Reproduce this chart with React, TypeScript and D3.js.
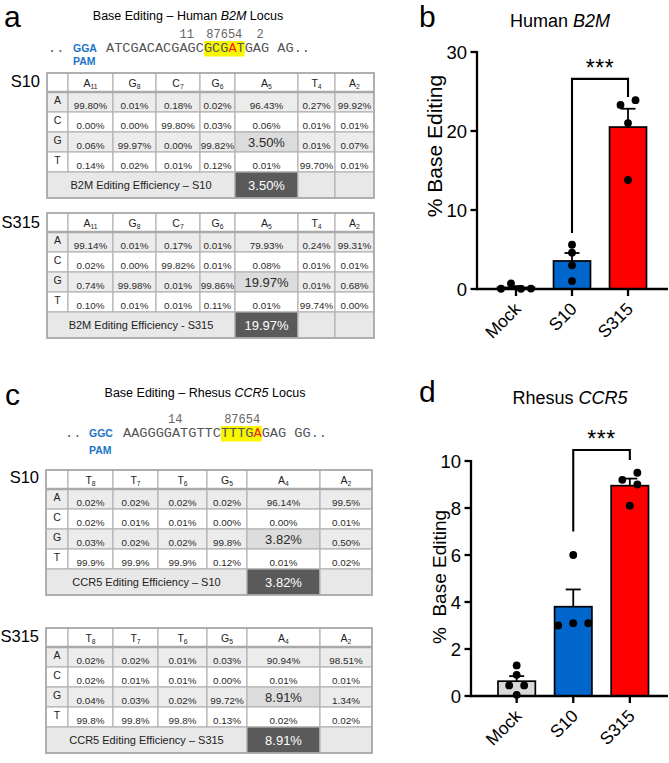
import React from "react";
import * as d3 from "d3";

const FONT = "'Liberation Sans', Arial, Helvetica, sans-serif";
const MONO = "'Liberation Mono', 'Courier New', monospace";
const PAM_BLUE = "#1b74c8";

// ---------- Panel a : Human B2M locus ----------
const b2mTitle = ["Base Editing \u2013 Human ", "B2M", " Locus"];
const b2mPam = "GGA";
const b2mSeq = "ATCGACACGAGCGCGATGAG AG..";
const b2mWindow = [12, 17];
const b2mEdited = 15;
const b2mPosLabels = ["11", "87654", "2"];
const b2mPosCols = [9.9, 14.5, 18.9];

const nucleotides = ["A", "C", "G", "T"];
const b2mHeadBases = ["A", "G", "C", "G", "A", "T", "A"];
const b2mHeadPos = ["11", "8", "7", "6", "5", "4", "2"];
const b2mS10Table = [
  ["99.80%", "0.01%", "0.18%", "0.02%", "96.43%", "0.27%", "99.92%"],
  ["0.00%", "0.00%", "99.80%", "0.03%", "0.06%", "0.01%", "0.01%"],
  ["0.06%", "99.97%", "0.00%", "99.82%", "3.50%", "0.01%", "0.07%"],
  ["0.14%", "0.02%", "0.01%", "0.12%", "0.01%", "99.70%", "0.01%"],
];
const b2mS315Table = [
  ["99.14%", "0.01%", "0.17%", "0.01%", "79.93%", "0.24%", "99.31%"],
  ["0.02%", "0.00%", "99.82%", "0.01%", "0.08%", "0.01%", "0.01%"],
  ["0.74%", "99.98%", "0.01%", "99.86%", "19.97%", "0.01%", "0.68%"],
  ["0.10%", "0.01%", "0.01%", "0.11%", "0.01%", "99.74%", "0.00%"],
];
const b2mEff = ["B2M Editing Efficiency \u2013 S10", "3.50%", "B2M Editing Efficiency - S315", "19.97%"];

// ---------- Panel c : Rhesus CCR5 locus ----------
const ccr5Title = ["Base Editing \u2013 Rhesus ", "CCR5", " Locus"];
const ccr5Pam = "GGC";
const ccr5Seq = "AAGGGGATGTTCTTTGAGAG GG..";
const ccr5Window = [12, 17];
const ccr5Edited = 16;
const ccr5PosLabels = ["14", "87654"];
const ccr5PosCols = [6.4, 14.6];

const ccr5HeadBases = ["T", "T", "T", "G", "A", "A"];
const ccr5HeadPos = ["8", "7", "6", "5", "4", "2"];
const ccr5S10Table = [
  ["0.02%", "0.02%", "0.02%", "0.02%", "96.14%", "99.5%"],
  ["0.02%", "0.01%", "0.01%", "0.00%", "0.00%", "0.01%"],
  ["0.03%", "0.02%", "0.02%", "99.8%", "3.82%", "0.50%"],
  ["99.9%", "99.9%", "99.9%", "0.12%", "0.01%", "0.02%"],
];
const ccr5S315Table = [
  ["0.02%", "0.02%", "0.01%", "0.03%", "90.94%", "98.51%"],
  ["0.02%", "0.01%", "0.01%", "0.00%", "0.01%", "0.01%"],
  ["0.04%", "0.03%", "0.02%", "99.72%", "8.91%", "1.34%"],
  ["99.8%", "99.8%", "99.8%", "0.13%", "0.02%", "0.02%"],
];
const ccr5Eff = ["CCR5 Editing Efficiency \u2013 S10", "3.82%", "CCR5 Editing Efficiency \u2013 S315", "8.91%"];

// ---------- Panels b, d : bar charts ----------
const groups = ["Mock", "S10", "S315"];
const barColors = ["#d9d9d9", "#0066cc", "#ff0000"];

const b2mMock = [0.02, 0.7, 0.05, 0.03];
const b2mS10 = [5.6, 4.6, 3.0, 1.0];
const b2mS315 = [23.9, 23.3, 21.0, 13.8];
const b2mTicks = [0, 10, 20, 30];
const b2mBracket = [26.6, 7.1, 24.3];

const ccr5Mock = [1.3, 0.9, 0.45, 0.45, 0.05];
const ccr5S10 = [6.0, 3.1, 3.1, 3.0];
const ccr5S315 = [9.5, 9.2, 9.0, 8.1];
const ccr5Ticks = [0, 2, 4, 6, 8, 10];
const ccr5Bracket = [10.47, 7.0, 10.04];

// ---------------------------------------------------------------
function SeqHeader(p: any) {
  const fs = 13.6;
  const cw = fs * 0.6;
  const seq: string = p.seq;
  const [h0, h1] = p.win;
  return (
    <g>
      <text x={p.letterX} y={p.letterY} fontFamily={FONT} fontSize={30}>{p.letter}</text>
      <text x={p.titleX} y={p.titleY} fontFamily={FONT} fontSize={12.5} textAnchor="middle">
        <tspan>{p.title[0]}</tspan>
        <tspan fontStyle="italic">{p.title[1]}</tspan>
        <tspan>{p.title[2]}</tspan>
      </text>
      {p.posLabels.map((t: string, i: number) => (
        <text key={i} x={p.seqX + p.posCols[i] * cw} y={p.numY} fontFamily={MONO} fontSize={12}
          fill="#666" textAnchor="middle">{t}</text>
      ))}
      <rect x={p.seqX + h0 * cw} y={p.baseY - 11} width={(h1 - h0) * cw} height={15.5} fill="#f7f700" />
      <text x={p.dotsX} y={p.baseY} fontFamily={MONO} fontSize={fs} fill="#555">..</text>
      <text x={p.pamX} y={p.baseY} fontFamily={FONT} fontSize={10.5} fontWeight="bold" fill={PAM_BLUE}>{p.pam}</text>
      <text x={p.pamX} y={p.pamY} fontFamily={FONT} fontSize={10.5} fontWeight="bold" fill={PAM_BLUE}>PAM</text>
      <text x={p.seqX} y={p.baseY} fontFamily={MONO} fontSize={fs} fill="#555" style={{ whiteSpace: "pre" }}>
        <tspan>{seq.slice(0, p.edited)}</tspan>
        <tspan fill="#ff1a1a">{seq[p.edited]}</tspan>
        <tspan>{seq.slice(p.edited + 1)}</tspan>
      </text>
    </g>
  );
}

const ROW_H = [19, 20, 20, 20, 20, 26];

function BaseTable(p: any) {
  const edges: number[] = p.edges;
  const ys: number[] = [p.top];
  ROW_H.forEach((h) => ys.push(ys[ys.length - 1] + h));
  const nCols = p.headBases.length;
  const stroke = "#b4b4b4";
  const items: any[] = [];
  // header
  for (let c = 0; c <= nCols; c++) {
    items.push(<rect key={`h${c}`} x={edges[c]} y={ys[0]} width={edges[c + 1] - edges[c]} height={ROW_H[0]}
      fill="#fff" stroke={stroke} strokeWidth={1.2} />);
    if (c > 0) {
      items.push(
        <text key={`ht${c}`} x={(edges[c] + edges[c + 1]) / 2} y={ys[0] + 13.5} fontFamily={FONT} fontSize={10.5}
          textAnchor="middle" fill="#222">
          <tspan>{p.headBases[c - 1]}</tspan>
          <tspan fontSize={6.8} dy={2.5}>{p.headPos[c - 1]}</tspan>
        </text>
      );
    }
  }
  // data rows
  p.rows.forEach((row: string[], r: number) => {
    const y0 = ys[r + 1];
    const h = ROW_H[r + 1];
    const fill = r % 2 === 0 ? "#ececec" : "#ffffff";
    items.push(<rect key={`r${r}c0`} x={edges[0]} y={y0} width={edges[1] - edges[0]} height={h}
      fill={fill} stroke={stroke} strokeWidth={1.2} />);
    items.push(<text key={`rl${r}`} x={(edges[0] + edges[1]) / 2} y={y0 + 11.5} fontFamily={FONT} fontSize={10.5}
      textAnchor="middle" fill="#222">{nucleotides[r]}</text>);
    row.forEach((v, c) => {
      const hi = r === 2 && c === p.editCol;
      items.push(<rect key={`r${r}c${c + 1}`} x={edges[c + 1]} y={y0} width={edges[c + 2] - edges[c + 1]} height={h}
        fill={hi ? "#dcdcdc" : fill} stroke={stroke} strokeWidth={1.2} />);
      items.push(<text key={`v${r}${c}`} x={(edges[c + 1] + edges[c + 2]) / 2} y={hi ? y0 + h - 5 : y0 + h - 3.5}
        fontFamily={FONT} fontSize={hi ? 13 : 9.9} textAnchor="middle" fill="#2a2a2a">{v}</text>);
    });
  });
  // efficiency row
  const ey = ys[5];
  const eh = ROW_H[5];
  const k = p.editCol + 1;
  items.push(<rect key="eff" x={edges[0]} y={ey} width={edges[k] - edges[0]} height={eh}
    fill="#e8e8e8" stroke={stroke} strokeWidth={1.2} />);
  items.push(<text key="efft" x={(edges[0] + edges[k]) / 2} y={ey + 17} fontFamily={FONT} fontSize={11}
    textAnchor="middle" fill="#222">{p.effLabel}</text>);
  items.push(<rect key="effv" x={edges[k]} y={ey} width={edges[k + 1] - edges[k]} height={eh}
    fill="#5a5a5a" stroke={stroke} strokeWidth={1.2} />);
  items.push(<text key="effvt" x={(edges[k] + edges[k + 1]) / 2} y={ey + 18} fontFamily={FONT} fontSize={13}
    textAnchor="middle" fill="#fff">{p.effValue}</text>);
  for (let c = k + 1; c < edges.length - 1; c++) {
    items.push(<rect key={`e${c}`} x={edges[c]} y={ey} width={edges[c + 1] - edges[c]} height={eh}
      fill="#e8e8e8" stroke={stroke} strokeWidth={1.2} />);
  }
  return (
    <g>
      {items}
      <line x1={edges[0]} x2={edges[edges.length - 1]} y1={ys[1]} y2={ys[1]} stroke="#aaa" strokeWidth={2.4} />
      <rect x={edges[0]} y={ys[0]} width={edges[edges.length - 1] - edges[0]} height={ys[6] - ys[0]}
        fill="none" stroke="#a8a8a8" strokeWidth={1.6} />
      <text x={p.labelX} y={p.top + p.labelDy} fontFamily={FONT} fontSize={16.5} textAnchor="end">{p.sample}</text>
    </g>
  );
}

function swarm(vals: number[], y: (v: number) => number, thresh: number) {
  const order = vals.map((_, i) => i).sort((a, b) => y(vals[a]) - y(vals[b]));
  const clusters: number[][] = [];
  let prev = -Infinity;
  order.forEach((i) => {
    const yy = y(vals[i]);
    if (clusters.length && yy - prev < thresh) clusters[clusters.length - 1].push(i);
    else clusters.push([i]);
    prev = yy;
  });
  const out = vals.map(() => ({ slot: 0, n: 1 }));
  clusters.forEach((cl) => {
    const members = [...cl].sort((a, b) => a - b);
    let n = 1;
    for (n = 1; n <= members.length; n++) {
      let ok = true;
      for (let c = 0; c < n && ok; c++) {
        const cy = members.filter((_, j) => j % n === c).map((i) => y(vals[i])).sort((a, b) => a - b);
        for (let q = 1; q < cy.length; q++) if (cy[q] - cy[q - 1] < thresh) ok = false;
      }
      if (ok) break;
    }
    const slots = d3.range(n).map((q) => q - (n - 1) / 2)
      .sort((a, b) => Math.abs(a) - Math.abs(b) || b - a);
    members.forEach((i, j) => { out[i] = { slot: slots[j % n], n }; });
  });
  return out;
}

function BarPanel(p: any) {
  const y = d3.scaleLinear().domain([0, p.yMax]).range([p.yBottom, p.yTop]);
  const x = d3.scaleBand<string>().domain(groups).range(p.xRange).paddingInner(0.34).paddingOuter(0);
  const bw = x.bandwidth();
  const r = 3.9;
  const xEnd = 668;
  const [bTop, bL, bR] = p.bracket;
  return (
    <g fontFamily={FONT}>
      <text x={p.letterX} y={p.letterY} fontSize={30}>{p.letter}</text>
      <text x={p.titleX} y={p.titleY} fontSize={18} textAnchor="middle">
        <tspan>{p.title[0]}</tspan>
        <tspan fontStyle="italic">{p.title[1]}</tspan>
      </text>
      {p.data.map((vals: number[], gi: number) => {
        const g = groups[gi];
        const cx = (x(g) as number) + bw / 2;
        const m = d3.mean(vals) as number;
        const sem = (d3.deviation(vals) as number) / Math.sqrt(vals.length);
        const sw = swarm(vals, y, 7.5);
        return (
          <g key={g}>
            <rect x={x(g)} y={y(m)} width={bw} height={y(0) - y(m)} fill={barColors[gi]} stroke="#000" strokeWidth={1.7} />
            <line x1={cx} x2={cx} y1={y(m)} y2={y(m + sem)} stroke="#000" strokeWidth={1.8} />
            <line x1={cx - 7.5} x2={cx + 7.5} y1={y(m + sem)} y2={y(m + sem)} stroke="#000" strokeWidth={1.8} />
            {vals.map((v, i) => {
              const sp = sw[i].n > 1 ? Math.min(15, (bw - 7) / (sw[i].n - 1)) : 0;
              return <circle key={i} cx={cx + sw[i].slot * sp} cy={y(v)} r={r} fill="#000" />;
            })}
          </g>
        );
      })}
      {/* axes */}
      <line x1={p.axisX} x2={p.axisX} y1={y(p.yMax) - 1} y2={y(0) + 1.1} stroke="#000" strokeWidth={2.3} />
      <line x1={p.axisX - 1} x2={xEnd} y1={y(0)} y2={y(0)} stroke="#000" strokeWidth={2.3} />
      {p.ticks.map((t: number) => (
        <g key={t}>
          <line x1={p.axisX - 6.5} x2={p.axisX} y1={y(t)} y2={y(t)} stroke="#000" strokeWidth={2.3} />
          <text x={p.axisX - 10} y={y(t) + 6.5} fontSize={18.5} textAnchor="end">{t}</text>
        </g>
      ))}
      {groups.map((g) => {
        const cx = (x(g) as number) + bw / 2;
        return (
          <g key={g}>
            <line x1={cx} x2={cx} y1={y(0)} y2={y(0) + 7} stroke="#000" strokeWidth={2.3} />
            <text transform={`translate(${cx + 6},${y(0) + 21}) rotate(-45)`} fontSize={17.5} textAnchor="end">{g}</text>
          </g>
        );
      })}
      <text transform={`translate(${p.yLabelX},${p.yLabelY}) rotate(-90)`} fontSize={p.yLabelSize} textAnchor="middle"
        style={{ whiteSpace: "pre" }}>{p.yLabel}</text>
      {/* significance bracket */}
      {(() => {
        const xl = (x("S10") as number) + bw / 2;
        const xr = (x("S315") as number) + bw / 2;
        return (
          <g>
            <path d={`M${xl},${y(bL)}V${y(bTop)}H${xr}V${y(bR)}`} fill="none" stroke="#000" strokeWidth={2.1} />
            <text x={(xl + xr) / 2} y={y(bTop) - 3} fontSize={23} textAnchor="middle" letterSpacing={0.5}>***</text>
          </g>
        );
      })()}
    </g>
  );
}

export default function App() {
  return (
    <svg width={669} height={763} viewBox="0 0 669 763"
      style={{ position: "absolute", left: 0, top: 0, background: "#fff" }}>
      <rect width={669} height={763} fill="#fff" />
      <SeqHeader letter="a" letterX={4} letterY={27} title={b2mTitle} titleX={188} titleY={20}
        posLabels={b2mPosLabels} posCols={b2mPosCols} numY={37.5} seq={b2mSeq} win={b2mWindow} edited={b2mEdited}
        dotsX={48} pamX={73} pam={b2mPam} pamY={65} seqX={106} baseY={52} />
      <BaseTable edges={[47, 68, 113, 156, 200, 235, 298, 335, 374]} top={73} headBases={b2mHeadBases}
        headPos={b2mHeadPos} rows={b2mS10Table} editCol={4} effLabel={b2mEff[0]} effValue={b2mEff[1]}
        sample="S10" labelX={40} labelDy={14} />
      <BaseTable edges={[47, 68, 113, 156, 200, 235, 298, 335, 374]} top={213} headBases={b2mHeadBases}
        headPos={b2mHeadPos} rows={b2mS315Table} editCol={4} effLabel={b2mEff[2]} effValue={b2mEff[3]}
        sample="S315" labelX={40} labelDy={15} />

      <SeqHeader letter="c" letterX={5} letterY={405} title={ccr5Title} titleX={205} titleY={397}
        posLabels={ccr5PosLabels} posCols={ccr5PosCols} numY={423} seq={ccr5Seq} win={ccr5Window} edited={ccr5Edited}
        dotsX={65} pamX={89} pam={ccr5Pam} pamY={454} seqX={123} baseY={437} />
      <BaseTable edges={[46, 68, 113, 158, 207, 247, 320, 372]} top={470} headBases={ccr5HeadBases}
        headPos={ccr5HeadPos} rows={ccr5S10Table} editCol={4} effLabel={ccr5Eff[0]} effValue={ccr5Eff[1]}
        sample="S10" labelX={39} labelDy={13} />
      <BaseTable edges={[46, 68, 113, 158, 207, 247, 320, 372]} top={628} headBases={ccr5HeadBases}
        headPos={ccr5HeadPos} rows={ccr5S315Table} editCol={4} effLabel={ccr5Eff[2]} effValue={ccr5Eff[3]}
        sample="S315" labelX={39} labelDy={14} />

      <BarPanel letter="b" letterX={419} letterY={27} title={["Human ", "B2M"]} titleX={560} titleY={27}
        yMax={30} ticks={b2mTicks} yBottom={289} yTop={52} xRange={[497.5, 646.5]} axisX={477}
        data={[b2mMock, b2mS10, b2mS315]} bracket={b2mBracket}
        yLabel="% Base Editing" yLabelX={442} yLabelY={146} yLabelSize={21} />
      <BarPanel letter="d" letterX={419} letterY={402} title={["Rhesus ", "CCR5"]} titleX={570} titleY={404}
        yMax={10} ticks={ccr5Ticks} yBottom={696} yTop={461} xRange={[498, 648.5]} axisX={471}
        data={[ccr5Mock, ccr5S10, ccr5S315]} bracket={ccr5Bracket}
        yLabel={"%  Base Editing"} yLabelX={446} yLabelY={577} yLabelSize={19} />
    </svg>
  );
}
